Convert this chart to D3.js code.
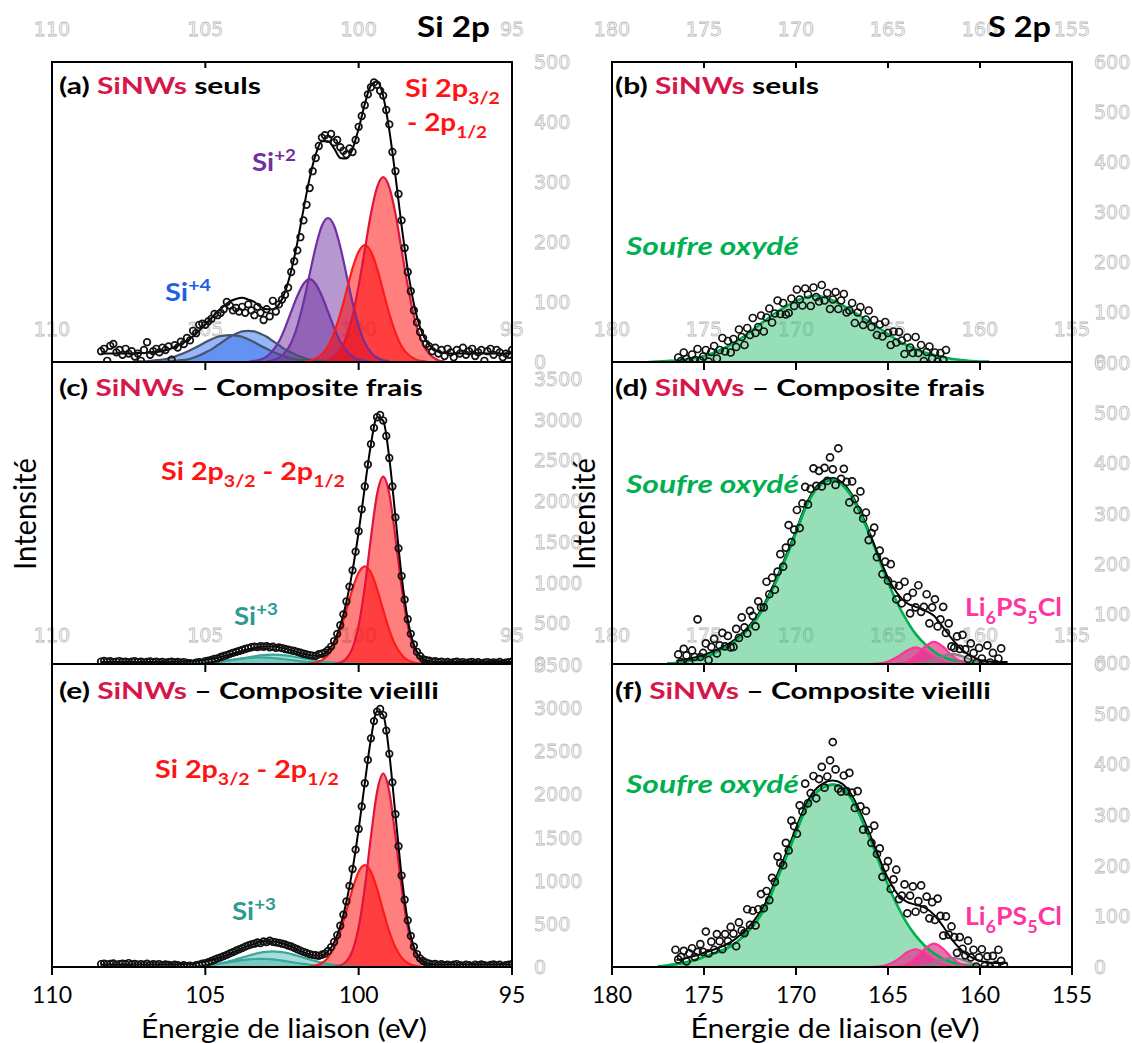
<!DOCTYPE html>
<html><head><meta charset="utf-8"><title>XPS Si 2p / S 2p</title>
<script src="https://cdn.jsdelivr.net/npm/d3@7"></script>
<style>html,body{margin:0;padding:0;background:#fff;} svg{display:block;}</style>
</head><body>
<svg id="chart" width="1132" height="1043" xmlns="http://www.w3.org/2000/svg"></svg>
<script>
// ================= DATA =================
const siTickValues = [110, 105, 100, 95];
const sTickValues = [180, 175, 170, 165, 160, 155];
const aYTickValues = [0, 100, 200, 300, 400, 500];
const ceYTickValues = [0, 500, 1000, 1500, 2000, 2500, 3000, 3500];
const sYTickValues = [0, 100, 200, 300, 400, 500, 600];

// measured points (intensity), first energy + step in eV
const siPointStart = 108.4, siPointStep = 0.1;
const aPoints = [
 18,22,2,27,30,16,20,12,22,14,
 18,9,14,2,20,33,12,18,22,16,
 24,20,26,4,28,24,34,30,40,36,
 52,48,62,64,62,68,72,80,78,82,
 88,100,94,86,90,84,92,82,96,86,
 78,92,82,70,88,76,102,84,96,104,
 112,124,150,168,186,208,236,262,290,318,
 340,360,374,378,372,380,366,370,358,352,
 346,356,350,370,392,410,428,446,458,466,
 462,452,444,420,396,350,318,280,236,190,
 150,118,86,66,50,40,30,26,18,24,
 14,20,10,22,16,8,20,14,24,12,
 18,22,10,16,20,2,18,22,12,20,
 16,8,14,12,20];
const cPoints = [
 30,38,28,34,22,30,36,26,30,20,
 28,34,24,30,18,26,32,22,28,20,
 26,16,24,30,20,26,18,24,14,10,
 4,16,24,18,36,42,50,64,70,86,
 98,110,124,136,148,160,172,184,196,206,
 214,208,218,212,220,206,212,198,204,196,
 184,176,168,160,150,138,126,118,110,104,
 100,120,126,142,172,214,282,370,476,610,
 768,950,1150,1380,1630,1900,2180,2450,2700,2900,
 3030,3060,2990,2800,2530,2180,1800,1420,1080,790,
 550,370,240,150,100,60,48,40,28,34,
 22,30,18,26,14,22,28,16,24,12,
 20,26,14,22,8,18,24,12,20,14,
 26,10,18,22,30];
const ePoints = [
 34,40,30,36,42,28,34,40,32,46,
 30,36,26,34,28,38,24,32,26,34,
 22,30,24,18,26,20,14,22,10,16,
 2,20,26,38,44,56,70,84,100,112,
 126,140,158,172,190,204,218,236,250,262,
 270,284,276,296,288,306,292,286,280,270,
 262,248,238,222,206,190,176,164,150,140,
 136,130,142,156,186,230,290,370,478,606,
 760,940,1136,1360,1600,1860,2130,2400,2650,2850,
 2960,2990,2920,2740,2470,2140,1770,1400,1060,780,
 540,360,236,150,100,70,50,40,30,36,
 24,32,20,28,18,26,34,22,16,28,
 20,12,26,18,30,20,14,24,30,18,
 26,12,22,28,34];

const sPointStep = 0.15;
const bPointStart = 176.4, dPointStart = 176.4, fPointStart = 176.55;
const bPoints = [
 9,2,19,6,1,15,4,26,3,11,
 24,1,20,32,7,24,48,21,42,19,
 46,30,65,50,34,68,54,88,58,70,
 93,61,89,107,79,97,123,96,118,95,
 98,127,112,145,125,113,147,135,112,149,
 130,121,154,123,138,106,125,140,106,123,
 136,99,103,118,78,99,110,74,85,103,
 70,84,54,75,51,80,58,34,61,39,
 60,43,16,49,29,18,50,18,34,2,
 20,31,7,19,1,18,4,24];
const dPoints = [
 19,4,30,17,2,27,14,89,14,22,
 41,8,34,50,21,37,62,35,56,33,
 34,70,52,93,73,61,106,96,75,125,
 113,113,164,139,172,148,184,219,194,232,
 277,243,268,307,271,320,353,318,349,390,
 355,385,354,391,365,412,388,357,430,369,
 389,363,322,364,329,307,344,290,302,247,
 261,272,213,226,179,204,166,199,158,129,
 156,121,164,133,101,142,113,157,104,114,
 139,81,113,129,75,89,114,62,81,35,
 32,55,30,58,29,10,41,22,2,32,
 11,1,37,3,22,0,11,31];
const fPoints = [
 34,15,20,32,11,27,37,20,30,45,
 30,70,27,50,34,65,51,35,65,51,
 79,66,41,88,72,67,114,83,111,82,
 114,144,116,150,132,176,168,218,205,201,
 245,230,289,278,263,319,307,362,323,343,
 377,333,371,395,354,376,408,444,390,352,
 346,378,347,383,344,314,347,317,271,308,
 270,245,279,223,234,178,196,209,154,173,
 192,134,141,163,106,141,159,109,130,161,
 114,139,96,128,93,135,101,62,100,64,
 80,59,28,59,36,23,52,19,34,1,
 19,35,2,21,0,22,4,34,12,3];

// fitted components, sampled every siCompStep / sCompStep eV from `from`
const siCompStep = 0.2, sCompStep = 0.5;
const aSi4B = {from:107.4, v:[0,1,1,2,3,4,6,9,13,17,22,27,33,38,42,44,45,44,42,38,33,27,22,17,13,9,6,4,3,2,1,1,0]};
const aSi4A = {from:106.6, v:[0,0,1,2,3,4,7,11,16,21,28,35,42,47,51,52,51,47,42,35,28,21,16,11,7,4,3,2,1,0,0]};
const aSi2Small = {from:103.6, v:[0,2,4,9,19,34,57,84,110,130,138,130,110,84,57,34,19,9,4,2,0]};
const aSi2Big = {from:103.0, v:[1,3,7,16,32,60,99,146,192,227,240,227,192,146,99,60,32,16,7,3,1]};
const aSi0Small = {from:101.8, v:[1,2,6,13,26,49,80,118,156,184,195,184,156,118,80,49,26,13,6,2,1]};
const aSi0Big = {from:101.2, v:[1,3,9,20,42,77,127,187,247,291,308,291,247,187,127,77,42,20,9,3,1]};

const cSi3A = {from:106.2, v:[1,2,3,4,7,11,16,22,30,39,49,58,67,74,78,80,78,74,67,58,49,39,30,22,16,11,7,4,3,2,1]};
const cSi3B = {from:105.8, v:[1,2,4,6,10,16,23,32,43,56,70,83,95,106,113,115,113,106,95,83,70,56,43,32,23,16,10,6,4,2,1]};
const cSi0Small = {from:101.6, v:[6,17,47,111,229,416,662,921,1123,1200,1123,921,662,416,229,111,47,17,6]};
const cSi0Big = {from:100.8, v:[4,18,67,196,474,945,1550,2084,2300,2084,1550,945,474,196,67,18,4]};

const eSi3A = {from:106.2, v:[1,2,3,5,8,13,19,26,36,46,58,69,79,88,93,95,93,88,79,69,58,46,36,26,19,13,8,5,3,2,1]};
const eSi3B = {from:105.8, v:[2,4,6,10,16,24,36,50,68,88,109,131,150,166,176,180,176,166,150,131,109,88,68,50,36,24,16,10,6,4,2]};
const eSi0Small = {from:101.6, v:[6,17,46,109,225,409,651,906,1105,1180,1105,906,651,409,225,109,46,17,6]};
const eSi0Big = {from:100.8, v:[4,18,65,190,461,921,1510,2029,2240,2029,1510,921,461,190,65,18,4]};

const bSox = {from:178.0, v:[0,1,2,3,5,8,12,18,26,36,47,60,74,88,101,112,122,129,133,130,123,114,103,92,80,68,56,44,34,26,19,14,10,6,4,2,1,1]};
const dSox = {from:177.0, v:[1,2,5,9,14,21,30,40,55,74,98,132,172,216,262,310,344,362,367,358,336,300,258,210,163,122,88,60,40,25,14,8,5,2,1,0]};
const dLpsA = {from:166.0, v:[0,1,5,14,26,33,26,14,5,1,0]};
const dLpsB = {from:164.5, v:[1,4,16,34,44,34,16,4,1]};
const dLpsC = {from:163.5, v:[1,3,9,16,20,16,9,3,1]};
const fSox = {from:177.5, v:[1,3,6,9,14,20,26,33,42,56,74,98,130,176,220,266,310,340,355,360,354,333,297,255,208,162,122,88,62,42,27,16,9,5,3,1,0,0]};
const fLpsA = {from:166.0, v:[0,1,5,14,28,35,28,14,5,1,0]};
const fLpsB = {from:164.5, v:[1,5,17,36,46,36,17,5,1]};
const fLpsC = {from:163.5, v:[1,3,8,15,18,15,8,3,1]};

// constant backgrounds of the fitted envelopes
const aBackground = 14, cBackground = 25, eBackground = 28, dBackground = 4, fBackground = 8;
// envelope energy ranges [from, to]
const siEnvelopeRange = [108.4, 95.0], sEnvelopeRange = [176.5, 158.5];

// ================= STYLE / LAYOUT =================
const FONT = "Lato, 'Open Sans', 'Noto Sans', sans-serif";
const GHOST_FONT = "'DejaVu Sans', sans-serif";
const styles = {
  si0b: {fill:'#ff0000', op:0.5, stroke:'#e0143c'},
  si0s: {fill:'#ff0000', op:0.5, stroke:'#ff1a1a'},
  si2:  {fill:'#7030a0', op:0.5, stroke:'#7030a0'},
  si4:  {fill:'#2f6ef0', op:0.5, stroke:'#44546a'},
  si3:  {fill:'#3cb4a8', op:0.45, stroke:'#3aa69c'},
  sox:  {fill:'#2fc070', op:0.5, stroke:'#00b050'},
  lps:  {fill:'#e8308f', op:0.7, stroke:'#ff3399'},
  lpsg: {fill:'#9a7f95', op:0.5, stroke:'#8c7a88'}
};
const COL_SINW = '#d6174b', COL_RED = '#ff1414', COL_PURPLE = '#7030a0', COL_BLUE = '#1f5fe8',
      COL_TEAL = '#2e9a90', COL_GREEN = '#00b050', COL_PINK = '#ff35a0';

const svg = d3.select('#chart');
const defs = svg.append('defs');
const xSi = d3.scaleLinear().domain([110, 95]).range([52, 512]);
const xS = d3.scaleLinear().domain([180, 155]).range([612, 1072]);

const panels = [
  {key:'a', x:xSi, ticks:siTickValues, top:62, bottom:362, y:d3.scaleLinear().domain([0,500]).range([362,62]), yTicks:aYTickValues,
   ghostX:534, innerGhost:336, comps:[[aSi4B,'si4'],[aSi4A,'si4'],[aSi2Small,'si2'],[aSi2Big,'si2'],[aSi0Small,'si0s'],[aSi0Big,'si0b']],
   step:siCompStep, bg:aBackground, env:siEnvelopeRange, pts:aPoints, ptStart:siPointStart, ptStep:siPointStep, r:3.3},
  {key:'c', x:xSi, ticks:siTickValues, top:362, bottom:664, y:d3.scaleLinear().domain([0,3500]).range([664,379]), yTicks:ceYTickValues,
   ghostX:534, innerGhost:642, comps:[[cSi3A,'si3'],[cSi3B,'si3'],[cSi0Small,'si0s'],[cSi0Big,'si0b']],
   step:siCompStep, bg:cBackground, env:siEnvelopeRange, pts:cPoints, ptStart:siPointStart, ptStep:siPointStep, r:3.3},
  {key:'e', x:xSi, ticks:siTickValues, top:664, bottom:967, y:d3.scaleLinear().domain([0,3500]).range([967,665]), yTicks:ceYTickValues,
   ghostX:534, innerGhost:null, comps:[[eSi3A,'si3'],[eSi3B,'si3'],[eSi0Small,'si0s'],[eSi0Big,'si0b']],
   step:siCompStep, bg:eBackground, env:siEnvelopeRange, pts:ePoints, ptStart:siPointStart, ptStep:siPointStep, r:3.3},
  {key:'b', x:xS, ticks:sTickValues, top:62, bottom:362, y:d3.scaleLinear().domain([0,600]).range([362,62]), yTicks:sYTickValues,
   ghostX:1094, innerGhost:336, comps:[[bSox,'sox']],
   step:sCompStep, bg:0, env:null, pts:bPoints, ptStart:bPointStart, ptStep:sPointStep, r:3.5},
  {key:'d', x:xS, ticks:sTickValues, top:362, bottom:664, y:d3.scaleLinear().domain([0,600]).range([664,363]), yTicks:sYTickValues,
   ghostX:1094, innerGhost:642, comps:[[dSox,'sox'],[dLpsA,'lps'],[dLpsB,'lps'],[dLpsC,'lpsg']],
   step:sCompStep, bg:dBackground, env:sEnvelopeRange, pts:dPoints, ptStart:dPointStart, ptStep:sPointStep, r:3.5},
  {key:'f', x:xS, ticks:sTickValues, top:664, bottom:967, y:d3.scaleLinear().domain([0,600]).range([967,663]), yTicks:sYTickValues,
   ghostX:1094, innerGhost:null, comps:[[fSox,'sox'],[fLpsA,'lps'],[fLpsB,'lps'],[fLpsC,'lpsg']],
   step:sCompStep, bg:fBackground, env:sEnvelopeRange, pts:fPoints, ptStart:fPointStart, ptStep:sPointStep, r:3.5}
];

// ---------- ghost (outlined, pale) tick labels ----------
const ghost = svg.append('g').attr('font-family', GHOST_FONT).attr('font-size', 19)
  .attr('fill', '#ffffff').attr('stroke', '#bbbbbb').attr('stroke-width', 0.8);
function ghostText(x, y, txt, anchor) {
  ghost.append('text').attr('x', x).attr('y', y).attr('text-anchor', anchor).text(txt);
}
siTickValues.forEach(v => ghostText(xSi(v), 36, v, 'middle'));
sTickValues.forEach(v => ghostText(xS(v), 36, v, 'middle'));
panels.forEach(p => {
  if (p.innerGhost) p.ticks.forEach(v => ghostText(p.x(v), p.innerGhost, v, 'middle'));
  p.yTicks.forEach(v => ghostText(p.ghostX, p.y(v) + 7, v, 'start'));
});

// ---------- panels ----------
panels.forEach(p => {
  const [x0, x1] = p.x.range();
  defs.append('clipPath').attr('id', 'clip-' + p.key).append('rect')
    .attr('x', x0).attr('y', p.top).attr('width', x1 - x0).attr('height', p.bottom - p.top);
  const g = svg.append('g').attr('clip-path', `url(#clip-${p.key})`);
  const toPts = c => c.v.map((v, i) => [c.from - i * p.step, v]);
  const area = d3.area().x(d => p.x(d[0])).y0(p.y(0)).y1(d => p.y(d[1])).curve(d3.curveMonotoneX);
  const line = d3.line().x(d => p.x(d[0])).y(d => p.y(d[1])).curve(d3.curveMonotoneX);
  p.comps.forEach(([c, s]) => {
    g.append('path').datum(toPts(c)).attr('d', area).attr('fill', styles[s].fill).attr('fill-opacity', styles[s].op);
  });
  p.comps.forEach(([c, s]) => {
    g.append('path').datum(toPts(c)).attr('d', line).attr('fill', 'none')
      .attr('stroke', styles[s].stroke).attr('stroke-width', s === 'sox' ? 2.6 : 2.2).attr('stroke-linejoin', 'round');
  });
  if (p.env) {
    const n = Math.round((p.env[0] - p.env[1]) / p.step);
    const env = d3.range(n + 1).map(i => {
      const E = p.env[0] - i * p.step;
      let s = p.bg;
      p.comps.forEach(([c]) => {
        const k = Math.round((c.from - E) / p.step);
        if (k >= 0 && k < c.v.length) s += c.v[k];
      });
      return [E, s];
    });
    g.append('path').datum(env).attr('d', line).attr('fill', 'none').attr('stroke', '#000').attr('stroke-width', 2);
  }
  // oxidised sulfur line stays visible where it lies on the envelope
  if (p.key === 'd' || p.key === 'f') {
    const [c, s] = p.comps[0];
    g.append('path').datum(toPts(c).filter(d => d[0] >= 166)).attr('d', line).attr('fill', 'none')
      .attr('stroke', styles[s].stroke).attr('stroke-width', 2.6);
  }
  g.selectAll('circle.pt').data(p.pts.map((v, i) => [p.ptStart - i * p.ptStep, v])).enter()
    .append('circle').attr('class', 'pt').attr('cx', d => p.x(d[0])).attr('cy', d => p.y(d[1])).attr('r', p.r)
    .attr('fill', 'none').attr('stroke', '#111').attr('stroke-width', 1.7);

  // frame + ticks
  const fr = svg.append('g').attr('stroke', '#000').attr('stroke-width', 2).attr('fill', 'none');
  fr.append('rect').attr('x', x0).attr('y', p.top).attr('width', x1 - x0).attr('height', p.bottom - p.top);
  p.ticks.forEach(v => {
    fr.append('line').attr('x1', p.x(v)).attr('x2', p.x(v)).attr('y1', p.bottom).attr('y2', p.bottom + 8);
    if (p.top === 62 && v !== p.ticks[0] && v !== p.ticks[p.ticks.length - 1])
      fr.append('line').attr('x1', p.x(v)).attr('x2', p.x(v)).attr('y1', p.top).attr('y2', p.top + 6);
  });
});

// ---------- texts ----------
const texts = svg.append('g');
function label(o) {
  const g = texts.append('g');
  const t = g.append('text').attr('x', 0).attr('y', 0)
    .attr('font-family', FONT).attr('font-size', o.size).attr('font-weight', o.weight || 400)
    .attr('font-style', o.italic ? 'italic' : 'normal').attr('fill', o.fill || '#000');
  let shift = 0;
  o.parts.forEach(pt => {
    const part = typeof pt === 'string' ? {t: pt} : pt;
    const ts = t.append('tspan').text(part.t);
    if (part.fill) ts.attr('fill', part.fill);
    const target = part.sub ? o.size * 0.3 : (part.sup ? -o.size * 0.4 : 0);
    if (target !== shift) ts.attr('dy', target - shift);
    shift = target;
    if (part.sub || part.sup) ts.attr('font-size', o.size * 0.68);
  });
  if (o.anchor) t.attr('text-anchor', o.anchor);
  const w = t.node().getComputedTextLength();
  const sx = o.width ? o.width / w : 1;
  const sy = o.sy || 1;
  g.attr('transform', `translate(${o.x},${o.y})` + (o.rotate ? ' rotate(-90)' : '') + ` scale(${sx},${sy})`);
}
const SiNWs = {t: 'SiNWs', fill: COL_SINW};
// titles
label({x:417, y:37, width:73, size:28, weight:700, parts:['Si 2p']});
label({x:988, y:37, width:63, size:28, weight:700, parts:['S 2p']});
// panel letters
label({x:59, y:94, width:202, size:23, weight:700, parts:['(a) ', SiNWs, ' seuls']});
label({x:615, y:94, width:204, size:23, weight:700, parts:['(b) ', SiNWs, ' seuls']});
label({x:59, y:396, width:364, size:23, weight:700, parts:['(c) ', SiNWs, ' – Composite frais']});
label({x:615, y:396, width:370, size:23, weight:700, parts:['(d) ', SiNWs, ' – Composite frais']});
label({x:59, y:699, width:380, size:23, weight:700, parts:['(e) ', SiNWs, ' – Composite vieilli']});
label({x:615, y:699, width:376, size:23, weight:700, parts:['(f) ', SiNWs, ' – Composite vieilli']});
// Si components
label({x:405, y:97, width:95, size:24, weight:700, fill:COL_RED, parts:['Si 2p', {t:'3/2', sub:true}]});
label({x:407, y:131, width:80, size:24, weight:700, fill:COL_RED, parts:['- 2p', {t:'1/2', sub:true}]});
label({x:161, y:480, width:184, size:24, weight:700, fill:COL_RED, parts:['Si 2p', {t:'3/2', sub:true}, ' - 2p', {t:'1/2', sub:true}]});
label({x:155, y:778, width:184, size:24, weight:700, fill:COL_RED, parts:['Si 2p', {t:'3/2', sub:true}, ' - 2p', {t:'1/2', sub:true}]});
label({x:252, y:171, width:44, size:24, weight:700, fill:COL_PURPLE, parts:['Si', {t:'+2', sup:true}]});
label({x:165, y:301, width:46, size:24, weight:700, fill:COL_BLUE, parts:['Si', {t:'+4', sup:true}]});
label({x:234, y:625, width:44, size:24, weight:700, fill:COL_TEAL, parts:['Si', {t:'+3', sup:true}]});
label({x:232, y:920, width:44, size:24, weight:700, fill:COL_TEAL, parts:['Si', {t:'+3', sup:true}]});
// S components
[255, 493, 793].forEach(y => label({x:626, y:y, width:173, size:25, weight:700, italic:true, fill:COL_GREEN, parts:['Soufre oxydé']}));
[616, 925].forEach(y => label({x:965, y:y, width:97, size:25, weight:700, fill:COL_PINK,
  parts:['Li', {t:'6', sub:true}, 'PS', {t:'5', sub:true}, 'Cl']}));
// axes titles
label({x:284, y:1038, width:286, size:27, anchor:'middle', parts:['Énergie de liaison (eV)']});
label({x:835, y:1038, width:289, size:27, anchor:'middle', parts:['Énergie de liaison (eV)']});
label({x:36, y:514, width:112, size:30, anchor:'middle', rotate:true, parts:['Intensité']});
label({x:595, y:514, width:112, size:30, anchor:'middle', rotate:true, parts:['Intensité']});
// bottom tick labels
siTickValues.forEach(v => label({x:xSi(v), y:1003, size:23, anchor:'middle', parts:[String(v)]}));
sTickValues.forEach(v => label({x:xS(v), y:1003, size:23, anchor:'middle', parts:[String(v)]}));
</script>
</body></html>
